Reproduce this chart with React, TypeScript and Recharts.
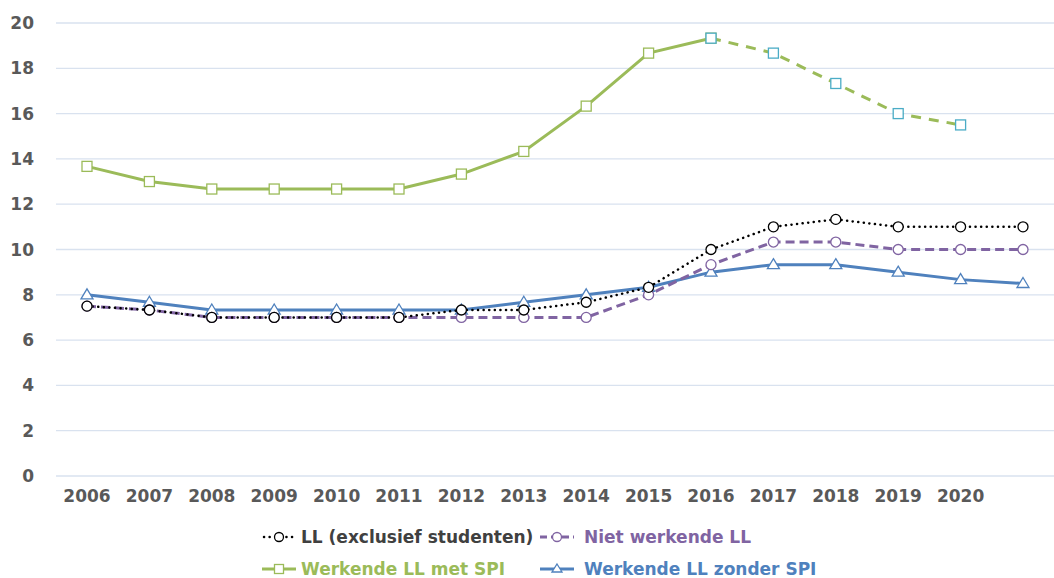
import React from 'react';
import { LineChart, Line, XAxis, YAxis, CartesianGrid, Legend } from 'recharts';

// years on the x axis (the last slot has no label in the source)
const YEARS = ['2006', '2007', '2008', '2009', '2010', '2011', '2012', '2013', '2014', '2015', '2016', '2017', '2018', '2019', '2020', ''];

const LL_EXCL_STUDENTEN = [7.5, 7.33, 7, 7, 7, 7, 7.33, 7.33, 7.67, 8.33, 10, 11, 11.33, 11, 11, 11];
const NIET_WERKEND = [7.5, 7.33, 7, 7, 7, 7, 7, 7, 7, 8, 9.33, 10.33, 10.33, 10, 10, 10];
const MET_SPI = [13.67, 13, 12.67, 12.67, 12.67, 12.67, 13.33, 14.33, 16.33, 18.67, 19.33, null, null, null, null, null];
const MET_SPI_RAMING = [null, null, null, null, null, null, null, null, null, null, 19.33, 18.67, 17.33, 16, 15.5, null];
const ZONDER_SPI = [8, 7.67, 7.33, 7.33, 7.33, 7.33, 7.33, 7.67, 8, 8.33, 9, 9.33, 9.33, 9, 8.67, 8.5];

const Y_TICKS = [0, 2, 4, 6, 8, 10, 12, 14, 16, 18, 20];

const data = YEARS.map((year, i) => ({
  year,
  ll: LL_EXCL_STUDENTEN[i],
  niet: NIET_WERKEND[i],
  met: MET_SPI[i],
  metRaming: MET_SPI_RAMING[i],
  zonder: ZONDER_SPI[i],
}));

const GREEN = '#9BBB59';
const CYAN = '#4BACC6';
const PURPLE = '#8064A2';
const BLUE = '#4F81BD';
const FONT = '"DejaVu Sans", sans-serif';

const circleDot = (stroke: string) => (props: any) => {
  const { cx, cy, index } = props;
  if (cx == null || cy == null) return <g key={index} />;
  return <circle key={index} cx={cx} cy={cy} r={5} fill="#fff" stroke={stroke} strokeWidth={1.3} />;
};

const squareDot = (stroke: string) => (props: any) => {
  const { cx, cy, index } = props;
  if (cx == null || cy == null) return <g key={index} />;
  return <rect key={index} x={cx - 5} y={cy - 5} width={10} height={10} fill="#fff" stroke={stroke} strokeWidth={1.3} />;
};

const triangleDot = (stroke: string) => (props: any) => {
  const { cx, cy, index } = props;
  if (cx == null || cy == null) return <g key={index} />;
  return (
    <path
      key={index}
      d={`M${cx},${cy - 6} L${cx + 6},${cy + 4} L${cx - 6},${cy + 4} Z`}
      fill="#fff"
      stroke={stroke}
      strokeWidth={1.3}
    />
  );
};

const LegendItem = ({ kind, label, color, gap }: { kind: string; label: string; color: string; gap: number }) => {
  let line: React.ReactNode = null;
  let marker: React.ReactNode = null;
  if (kind === 'll') {
    line = <line x1={2} y1={10} x2={32} y2={10} stroke="#000" strokeWidth={2.5} strokeDasharray="0.1 5.5" strokeLinecap="round" />;
    marker = <circle cx={17} cy={10} r={4.5} fill="#fff" stroke="#000" strokeWidth={1.3} />;
  } else if (kind === 'niet') {
    line = <line x1={0} y1={10} x2={34} y2={10} stroke={PURPLE} strokeWidth={3} strokeDasharray="7 4" />;
    marker = <circle cx={17} cy={10} r={4.5} fill="#fff" stroke={PURPLE} strokeWidth={1.3} />;
  } else if (kind === 'met') {
    line = <line x1={0} y1={10} x2={34} y2={10} stroke={GREEN} strokeWidth={3} />;
    marker = <rect x={12.5} y={5.5} width={9} height={9} fill="#fff" stroke={GREEN} strokeWidth={1.3} />;
  } else {
    line = <line x1={0} y1={10} x2={34} y2={10} stroke={BLUE} strokeWidth={3} />;
    marker = <path d="M17,5 L22,13 L12,13 Z" fill="#fff" stroke={BLUE} strokeWidth={1.3} />;
  }
  return (
    <div style={{ display: 'flex', alignItems: 'center', height: 32 }}>
      <svg width={34} height={20} style={{ marginRight: gap }}>
        {line}
        {marker}
      </svg>
      <span style={{ color, fontWeight: 'bold', fontSize: 17, lineHeight: '18px', fontFamily: FONT, whiteSpace: 'nowrap' }}>{label}</span>
    </div>
  );
};

const renderLegend = () => (
  <div style={{ height: 70, paddingLeft: 262, paddingTop: 13, boxSizing: 'border-box' }}>
    <div style={{ display: 'grid', gridTemplateColumns: '278px 320px' }}>
      <LegendItem kind="ll" label="LL (exclusief studenten)" color="#404040" gap={5} />
      <LegendItem kind="niet" label="Niet werkende LL" color={PURPLE} gap={10} />
      <LegendItem kind="met" label="Werkende LL met SPI" color={GREEN} gap={5} />
      <LegendItem kind="zonder" label="Werkende LL zonder SPI" color={BLUE} gap={10} />
    </div>
  </div>
);

const App: React.FC = () => {
  return (
    <div style={{ position: 'absolute', top: 0, left: 0, width: 1054, height: 578, background: '#fff' }}>
      <LineChart width={1054} height={578} data={data} margin={{ top: 23, right: 0, bottom: 0, left: 0 }}>
        <CartesianGrid vertical={false} stroke="#D9E2EF" strokeWidth={1.3} />
        <XAxis
          dataKey="year"
          axisLine={false}
          tickLine={false}
          tickSize={0}
          tickMargin={14}
          height={32}
          interval={0}
          padding={{ left: 31, right: 31 }}
          tick={{ fill: '#595959', fontSize: 17, fontWeight: 'bold', fontFamily: FONT }}
        />
        <YAxis
          domain={[0, 20]}
          ticks={Y_TICKS}
          axisLine={false}
          tickLine={false}
          tickSize={0}
          tickMargin={22}
          width={56}
          tick={{ fill: '#595959', fontSize: 17, fontWeight: 'bold', fontFamily: FONT }}
        />
        <Legend verticalAlign="bottom" content={renderLegend} />
        <Line type="linear" dataKey="zonder" stroke={BLUE} strokeWidth={3} dot={triangleDot(BLUE)} isAnimationActive={false} />
        <Line type="linear" dataKey="niet" stroke={PURPLE} strokeWidth={3} strokeDasharray="9 5" dot={circleDot(PURPLE)} isAnimationActive={false} />
        <Line type="linear" dataKey="ll" stroke="#000" strokeWidth={2.5} strokeDasharray="0.1 5.5" strokeLinecap="round" dot={circleDot('#000')} isAnimationActive={false} />
        <Line type="linear" dataKey="met" stroke={GREEN} strokeWidth={3} dot={squareDot(GREEN)} isAnimationActive={false} />
        <Line type="linear" dataKey="metRaming" stroke={GREEN} strokeWidth={3} strokeDasharray="10 8" dot={squareDot(CYAN)} isAnimationActive={false} />
      </LineChart>
    </div>
  );
};

export default App;
